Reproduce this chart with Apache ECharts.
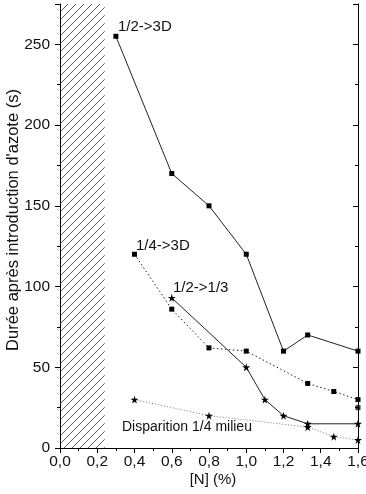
<!DOCTYPE html>
<html><head><meta charset="utf-8">
<script src="https://cdn.jsdelivr.net/npm/echarts@6/dist/echarts.min.js"></script>
<style>html,body{margin:0;padding:0;background:#fff}#c{width:366px;height:494px}</style>
</head><body><div id="c"></div>
<script>
// ---- data ----
const xRange = [0, 1.6];
const yRange = [0, 275];
const hatchRange = [0, 0.24];
const s1_name = '1/2->3D';
const s1_x = [0.3, 0.6, 0.8, 1.0, 1.2, 1.33, 1.6];
const s1_y = [255, 170, 150, 120, 60, 70, 60];
const s2_name = '1/4->3D';
const s2_x = [0.4, 0.6, 0.8, 1.0, 1.33, 1.47, 1.6];
const s2_y = [120, 86, 62, 60, 40, 35, 30];
const s3_name = '1/2->1/3';
const s3_x = [0.6, 1.0, 1.1, 1.2, 1.33, 1.6];
const s3_y = [93, 50, 30, 20, 15, 15];
const s4_name = 'Disparition 1/4 milieu';
const s4_x = [0.4, 0.8, 1.33, 1.47, 1.6];
const s4_y = [30, 20, 13, 7, 5];
const s5_x = [1.6];
const s5_y = [25];
const xLabel = '[N] (%)';
const yLabel = "Durée après introduction d'azote (s)";

const zip = (xs, ys) => xs.map((x, i) => [x, ys[i]]);
const FONT = "'Liberation Sans', Arial, sans-serif";
const STAR = 'path://M50,0 L61,35 L98,35 L68,57 L79,91 L50,70 L21,91 L32,57 L2,35 L39,35 Z';

// hatch pattern
const tile = document.createElement('canvas');
tile.width = 8; tile.height = 8;
const g = tile.getContext('2d');
g.strokeStyle = '#333'; g.lineWidth = 0.8;
g.beginPath();
g.moveTo(0, 8); g.lineTo(8, 0);
g.moveTo(-1, 1); g.lineTo(1, -1);
g.moveTo(7, 9); g.lineTo(9, 7);
g.stroke();

const chart = echarts.init(document.getElementById('c'), null, {renderer: 'canvas'});
const lineBlack = {color: '#000', width: 1};
const fmtX = v => v.toFixed(1).replace('.', ',');

const baseX = {type: 'value', min: xRange[0], max: xRange[1], interval: 0.2, splitLine: {show: false}};
const baseY = {type: 'value', min: yRange[0], max: yRange[1], splitLine: {show: false}};

const option = {
  animation: false,
  backgroundColor: '#fff',
  grid: {left: 60, right: 8, top: 4, bottom: 46, containLabel: false, outerBoundsMode: 'none'},
  xAxis: [
    Object.assign({}, baseX, {
      position: 'bottom',
      axisLine: {show: true, lineStyle: lineBlack},
      axisTick: {show: true, length: 5, lineStyle: lineBlack},
      minorTick: {show: true, splitNumber: 2, length: 3, lineStyle: lineBlack},
      axisLabel: {formatter: fmtX, color: '#111', fontSize: 15.5, fontFamily: FONT, margin: 6},
      name: xLabel, nameLocation: 'middle', nameGap: 24, nameMoveOverlap: false,
      nameTextStyle: {color: '#111', fontSize: 15, fontFamily: FONT, padding: [0, 0, 0, 8]}
    }),
    Object.assign({}, baseX, {
      position: 'top',
      axisLine: {show: true, lineStyle: lineBlack},
      axisTick: {show: true, inside: true, length: 5, lineStyle: lineBlack},
      minorTick: {show: true, splitNumber: 2, length: 3, lineStyle: lineBlack},
      axisLabel: {show: false}
    })
  ],
  yAxis: [
    Object.assign({}, baseY, {
      position: 'left', interval: 50,
      axisLine: {show: true, lineStyle: lineBlack},
      axisTick: {show: true, length: 5, lineStyle: lineBlack},
      axisLabel: {formatter: v => (v % 50 === 0 ? String(v) : ''), color: '#111', fontSize: 15.5, fontFamily: FONT, margin: 10},
      name: yLabel, nameLocation: 'middle', nameGap: 38, nameRotate: 90, nameMoveOverlap: false,
      nameTextStyle: {color: '#111', fontSize: 16.5, fontFamily: FONT, padding: [0, 0, 0, 12]}
    }),
    Object.assign({}, baseY, {
      position: 'left', interval: 25,
      axisLine: {show: false},
      axisTick: {show: true, length: 3, lineStyle: lineBlack},
      axisLabel: {show: false}
    }),
    Object.assign({}, baseY, {
      position: 'right', interval: 50,
      axisLine: {show: true, lineStyle: lineBlack},
      axisTick: {show: true, inside: true, length: 5, lineStyle: lineBlack},
      axisLabel: {show: false}
    }),
    Object.assign({}, baseY, {
      position: 'right', interval: 25,
      axisLine: {show: false},
      axisTick: {show: true, inside: true, length: 3, lineStyle: lineBlack},
      axisLabel: {show: false}
    })
  ],
  series: [
    {
      name: 'hatch', type: 'line', data: [], silent: true,
      markArea: {silent: true, itemStyle: {color: {image: tile, repeat: 'repeat'}, borderWidth: 0},
        data: [[{xAxis: hatchRange[0]}, {xAxis: hatchRange[1]}]]}
    },
    {
      name: s1_name, type: 'line', data: zip(s1_x, s1_y),
      symbol: 'rect', symbolSize: 5, lineStyle: {color: '#222', width: 1}, itemStyle: {color: '#000'}
    },
    {
      name: s2_name, type: 'line', data: zip(s2_x, s2_y),
      symbol: 'rect', symbolSize: 5, lineStyle: {color: '#222', width: 1, type: [1.5, 2.5]}, itemStyle: {color: '#000'}
    },
    {
      name: s3_name, type: 'line', data: zip(s3_x, s3_y),
      symbol: STAR, symbolSize: 8, lineStyle: {color: '#222', width: 1}, itemStyle: {color: '#000'}
    },
    {
      name: s4_name, type: 'line', data: zip(s4_x, s4_y),
      symbol: STAR, symbolSize: 8, lineStyle: {color: '#777', width: 1, type: [1, 2]}, itemStyle: {color: '#000'}
    },
    {
      name: 'extra', type: 'scatter', data: zip(s5_x, s5_y),
      symbol: 'rect', symbolSize: 5, itemStyle: {color: '#000'}
    }
  ],
  graphic: [
    {type: 'text', x: 118, y: 27, style: {text: s1_name, font: '15px ' + FONT, fill: '#111', verticalAlign: 'middle'}},
    {type: 'text', x: 136, y: 246, style: {text: s2_name, font: '15px ' + FONT, fill: '#111', verticalAlign: 'middle'}},
    {type: 'text', x: 173, y: 288, style: {text: s3_name, font: '15px ' + FONT, fill: '#111', verticalAlign: 'middle'}},
    {type: 'text', x: 122, y: 427, style: {text: s4_name, font: '14px ' + FONT, fill: '#111', verticalAlign: 'middle'}}
  ]
};
chart.setOption(option);
</script>
</body></html>
